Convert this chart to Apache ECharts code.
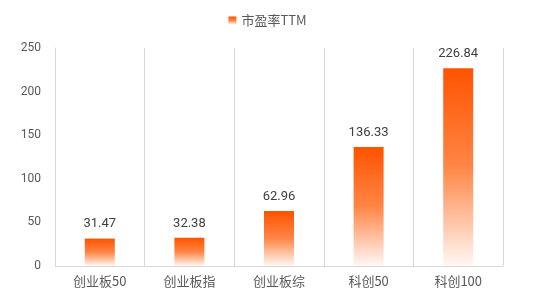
<!DOCTYPE html>
<html><head><meta charset="utf-8">
<script src="https://cdn.jsdelivr.net/npm/echarts@6/dist/echarts.min.js"></script>
<style>html,body{margin:0;padding:0;background:#fff}#c{width:535px;height:302px}</style>
</head><body><div id="c"></div>
<script>
const categories = ['创业板50','创业板指','创业板综','科创50','科创100'];
const peValues = [31.47, 32.38, 62.96, 136.33, 226.84];
const seriesName = '市盈率TTM';
const yTicks = {min: 0, max: 250, interval: 50};

const grad = new echarts.graphic.LinearGradient(0,0,0,1,[
  {offset:0,color:'#ff5300'},
  {offset:0.5,color:'#ff8646'},
  {offset:1,color:'#fff8f5'}
]);
const chart = echarts.init(document.getElementById('c'));
chart.setOption({
  animation:false,
  legend:{top:9,left:'center',itemWidth:8,itemHeight:8,itemGap:4,
    textStyle:{color:'#595959',fontSize:13,fontFamily:'"Noto Sans CJK SC",sans-serif'},
    data:[{name:seriesName,icon:'rect'}]},
  grid:{left:55,right:32,top:48,bottom:36},
  xAxis:{type:'category',data:categories,
    axisLine:{lineStyle:{color:'#d9d9d9'}},axisTick:{show:false},
    splitLine:{show:true,lineStyle:{color:'#d9d9d9'}},
    axisLabel:{color:'#595959',fontSize:13,margin:9,fontFamily:'"Noto Sans CJK SC",sans-serif'}},
  yAxis:{type:'value',min:yTicks.min,max:yTicks.max,interval:yTicks.interval,
    axisLine:{show:true,lineStyle:{color:'#d9d9d9'}},axisTick:{show:false},
    splitLine:{show:false},
    axisLabel:{color:'#595959',fontSize:12,margin:14,fontFamily:'Roboto,sans-serif'}},
  series:[{name:seriesName,type:'bar',data:peValues,barWidth:30,
    itemStyle:{color:grad},
    label:{show:true,position:'top',distance:8,color:'#404040',fontSize:13,fontFamily:'Roboto,sans-serif'}}]
});
</script></body></html>
